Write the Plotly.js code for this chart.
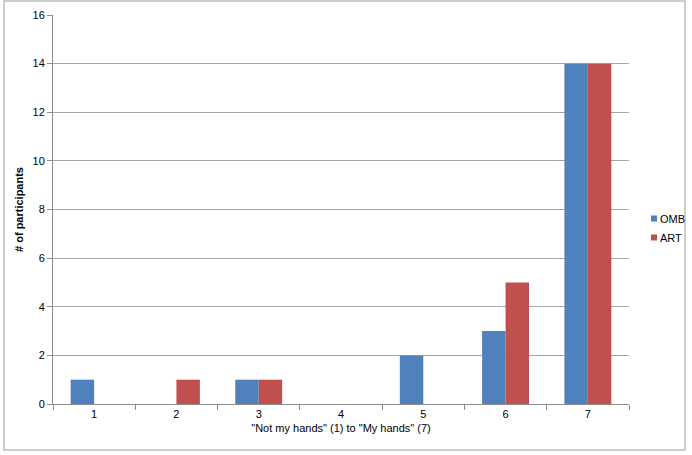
<!DOCTYPE html>
<html>
<head>
<meta charset="utf-8">
<script src="https://cdn.plot.ly/plotly-3.0.1.min.js"></script>
<style>
    body { margin: 0; background: #fff; }
    #chart { width: 692px; height: 455px; }
</style>
</head>
<body>
<div id="chart"></div>
<script>
// Ratings from "Not my hands" (1) to "My hands" (7)
const categories = ['1', '2', '3', '4', '5', '6', '7'];
const ombCounts = [1, 0, 1, 0, 2, 3, 14];
const artCounts = [0, 1, 1, 0, 0, 5, 14];
const yTicks = [0, 2, 4, 6, 8, 10, 12, 14, 16];
const seriesNames = ['OMB', 'ART'];
const seriesColors = ['#4f81bd', '#c0504d'];

const axisGrey = '#8c8c8c';
const font = 'Liberation Sans, Arial, sans-serif';

const traceOmb = {
    x: categories,
    y: ombCounts,
    type: 'bar',
    name: seriesNames[0],
    marker: { color: seriesColors[0] }
};

const traceArt = {
    x: categories,
    y: artCounts,
    type: 'bar',
    name: seriesNames[1],
    marker: { color: seriesColors[1] }
};

// plot area in pixels: left 53, right 629, top 15, bottom 404
const W = 576, H = 389;
const px = x => (x - 53) / W;
const py = y => (404 - y) / H;

// Excel-like legend: small square swatch right next to the label
const legendShapes = [];
const legendNotes = [];
seriesNames.forEach((name, i) => {
    const cy = 218.5 + i * 19;
    legendShapes.push({
        type: 'rect',
        xref: 'paper', yref: 'paper',
        x0: px(651), x1: px(657),
        y0: py(cy + 3), y1: py(cy - 3),
        fillcolor: seriesColors[i],
        line: { width: 0 }
    });
    legendNotes.push({
        xref: 'paper', yref: 'paper',
        x: px(659), y: py(cy),
        xanchor: 'left', yanchor: 'middle',
        text: name,
        showarrow: false,
        borderpad: 0,
        font: { family: font, size: 11, color: '#000' }
    });
});

const layout = {
    width: 692,
    height: 455,
    margin: { l: 53, r: 63, t: 15, b: 51, autoexpand: false },
    paper_bgcolor: '#ffffff',
    plot_bgcolor: '#ffffff',
    font: { family: font, size: 11, color: '#000' },
    barmode: 'group',
    bargap: 0.43,
    bargroupgap: 0,
    showlegend: false,
    xaxis: {
        type: 'category',
        showline: true,
        linecolor: axisGrey,
        linewidth: 1,
        ticks: 'outside',
        tickson: 'boundaries',
        ticklen: 5,
        tickcolor: axisGrey,
        showgrid: false,
        zeroline: false,
        automargin: false,
        tickfont: { family: font, size: 11 },
        title: {
            text: '"Not my hands" (1) to "My hands" (7)',
            font: { family: font, size: 11 },
            standoff: 5
        }
    },
    yaxis: {
        range: [0, 16],
        tickvals: yTicks,
        showline: true,
        linecolor: axisGrey,
        linewidth: 1,
        ticks: 'outside',
        ticklen: 5,
        tickcolor: axisGrey,
        showgrid: true,
        gridcolor: '#a6a6a6',
        gridwidth: 1,
        zeroline: false,
        automargin: false,
        tickfont: { family: font, size: 11 },
        title: {
            text: '<b># of participants</b>',
            font: { family: font, size: 11 },
            standoff: 6
        }
    },
    annotations: legendNotes,
    shapes: [{
        // outer chart border
        type: 'rect',
        xref: 'paper', yref: 'paper',
        x0: px(4), x1: px(685),
        y0: py(450), y1: py(1),
        line: { color: '#bdbdbd', width: 1.5 },
        layer: 'below'
    }].concat(legendShapes)
};

Plotly.newPlot('chart', [traceOmb, traceArt], layout, { displayModeBar: false, staticPlot: true });
</script>
</body>
</html>
